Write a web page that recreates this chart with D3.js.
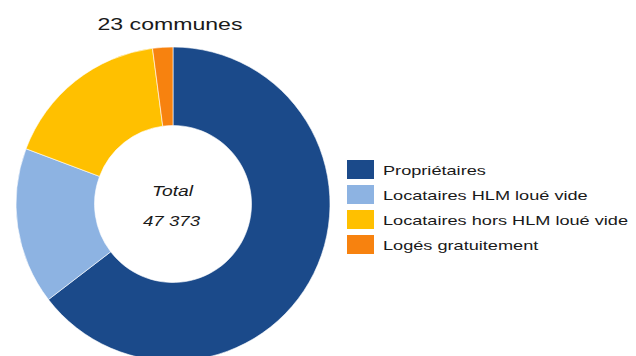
<!DOCTYPE html>
<html>
<head>
<meta charset="utf-8">
<script src="https://cdn.jsdelivr.net/npm/d3@7"></script>
<style>
  html, body { margin: 0; padding: 0; background: #ffffff; }
  svg { display: block; }
  text { font-family: "Liberation Sans", Arial, sans-serif; fill: #1a1a1a; }
</style>
</head>
<body>
<svg id="chart" width="636" height="356"></svg>
<script>
const title = "23 communes";
const categories = ["Propriétaires", "Locataires HLM loué vide", "Locataires hors HLM loué vide", "Logés gratuitement"];
const values = [30595, 7645, 8145, 988];
const colors = ["#1b4a8a", "#8db3e2", "#ffc000", "#f7820f"];
const totalLabel = "Total";
const totalValue = "47 373";

const svg = d3.select("#chart");
const W = 636, H = 356;
const cx = 173, cy = 204, rOuter = 157, rInner = 78.5;

const pie = d3.pie().sort(null).value(d => d.value);
const arc = d3.arc().innerRadius(rInner).outerRadius(rOuter);
const data = categories.map((c, i) => ({ name: c, value: values[i], color: colors[i] }));

const g = svg.append("g").attr("transform", `translate(${cx},${cy})`);
g.selectAll("path").data(pie(data)).join("path")
  .attr("d", arc)
  .attr("fill", d => d.data.color)
  .attr("stroke", "#ffffff")
  .attr("stroke-width", 0.6);

// stretch helper: set text width
function stretch(sel, width) {
  sel.attr("textLength", width).attr("lengthAdjust", "spacingAndGlyphs");
}

// title
const t = svg.append("text").attr("x", 170).attr("y", 30)
  .attr("text-anchor", "middle").attr("font-size", 17).text(title);
stretch(t, 145);

// center labels
const t1 = svg.append("text").attr("x", 172.5).attr("y", 196)
  .attr("text-anchor", "middle").attr("font-size", 14).attr("font-style", "italic").text(totalLabel);
stretch(t1, 41);
const t2 = svg.append("text").attr("x", 171.5).attr("y", 226)
  .attr("text-anchor", "middle").attr("font-size", 14).attr("font-style", "italic").text(totalValue);
stretch(t2, 57);

// legend
const legend = svg.append("g").attr("transform", "translate(347,170)");
const rows = legend.selectAll("g").data(data).join("g")
  .attr("transform", (d, i) => `translate(0,${i * 25})`);
rows.append("rect").attr("x", 0).attr("y", -10).attr("width", 27).attr("height", 19)
  .attr("fill", d => d.color);
const lt = rows.append("text").attr("x", 36).attr("y", 4.5).attr("font-size", 13).text(d => d.name);
const naturals = lt.nodes().map(n => n.getComputedTextLength());
const k = 245 / d3.max(naturals);
lt.each(function(d, i) { stretch(d3.select(this), naturals[i] * k); });
</script>
</body>
</html>
